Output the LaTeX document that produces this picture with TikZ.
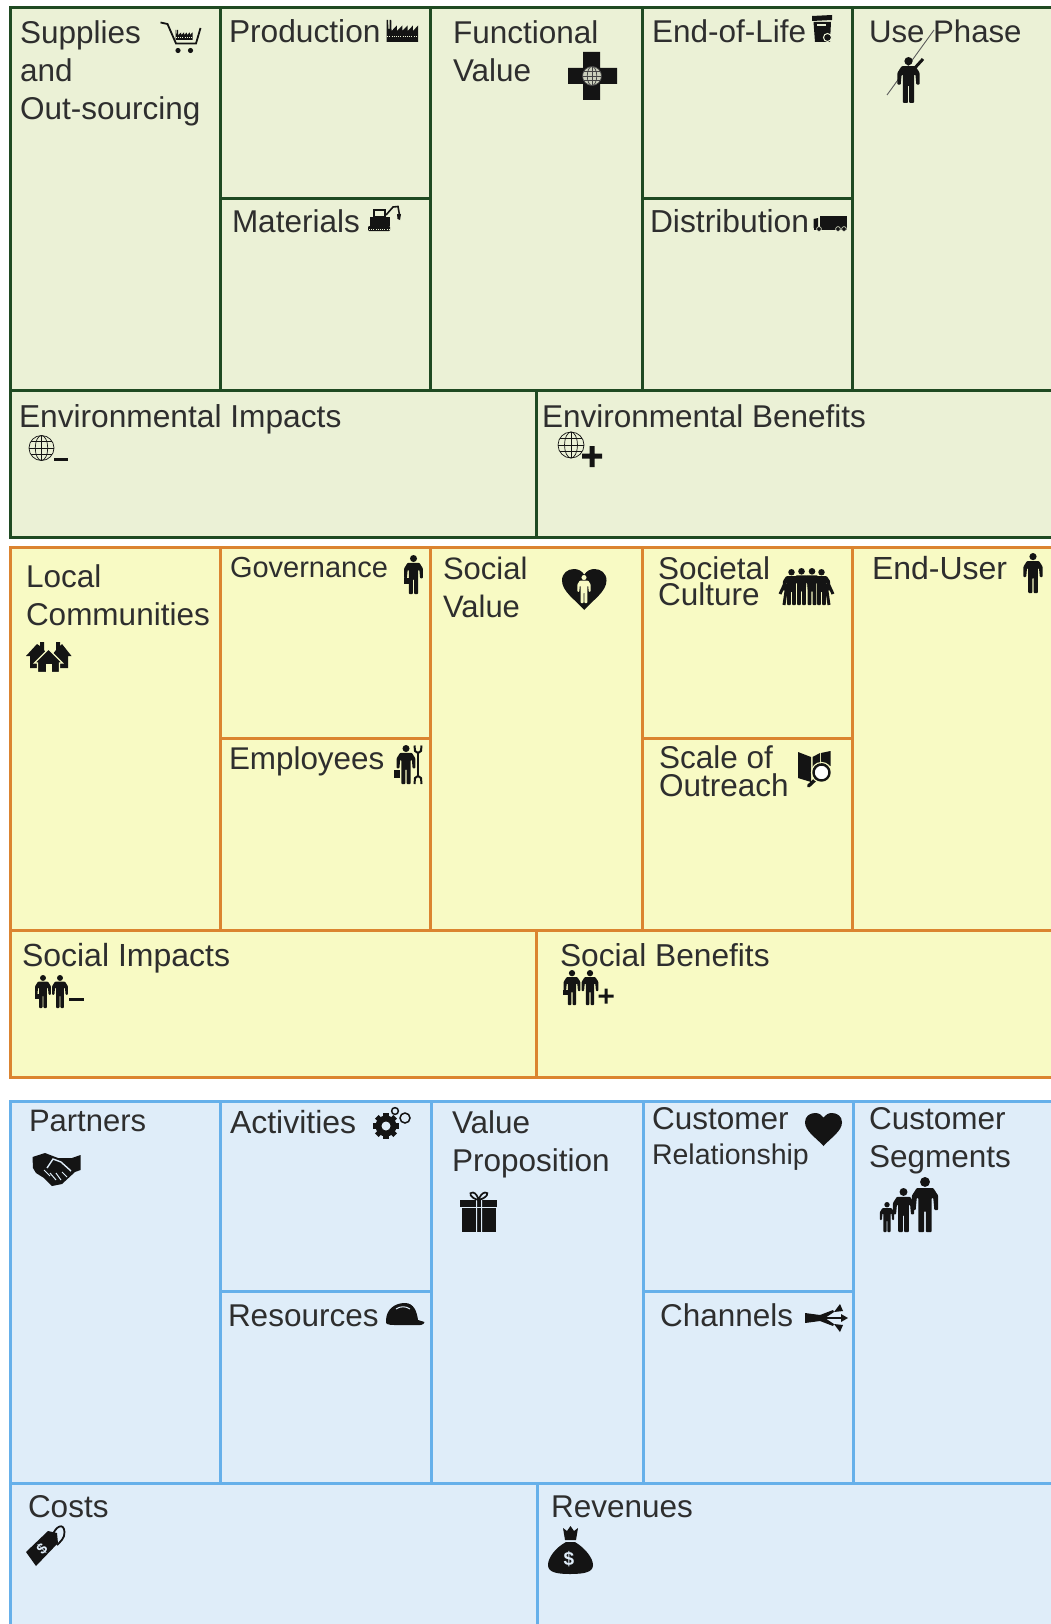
\documentclass[tikz,border=0pt]{standalone}
\usepackage{fontspec}
\setmainfont{Liberation Sans}
\definecolor{gfill}{HTML}{EBF1D6}
\definecolor{gline}{HTML}{1F4A22}
\definecolor{yfill}{HTML}{F8FAC4}
\definecolor{yline}{HTML}{DB8430}
\definecolor{bfill}{HTML}{DFEDF9}
\definecolor{bline}{HTML}{66B0EA}
\definecolor{ic}{HTML}{141414}
\definecolor{tx}{HTML}{2E2E2E}
\tikzset{
  cellbase/.style={rectangle,draw,line width=3pt,inner sep=0pt,outer sep=0pt,anchor=north west},
  gcell/.style={cellbase,fill=gfill,draw=gline},
  ycell/.style={cellbase,fill=yfill,draw=yline},
  bcell/.style={cellbase,fill=bfill,draw=bline},
  lab/.style={anchor=base west,inner sep=0pt,outer sep=0pt,text=tx,align=left},
}
\newcommand{\cellbox}[6]{\pgfmathsetmacro\cw{#5-#3}\pgfmathsetmacro\ch{#6-#4}%
  \node[#1,minimum width=\cw pt,minimum height=\ch pt] (#2) at (#3,#4) {};}
\newcommand{\lbl}[6]{\node[lab,font=\fontsize{#4}{#5}\selectfont] (#1) at (#2,#3) {#6};}
% person: centre x, top y, height, colour
\newcommand{\icnPerson}[4]{\begin{scope}[shift={(#1,#2)},scale=#3]
  \fill[#4] (0,.09) circle (.09);
  \fill[#4,rounded corners=.8pt] (-.15,.2)--(.15,.2)--(.24,.34)--(.24,.6)--(.17,.6)--(.15,.38)--(.12,.38)--(.12,1)--(.015,1)--(.015,.62)--(-.015,.62)--(-.015,1)--(-.12,1)--(-.12,.38)--(-.15,.38)--(-.17,.6)--(-.24,.6)--(-.24,.34)--cycle;
\end{scope}}
\newcommand{\icnGlobe}[5]{\begin{scope}[shift={(#1,#2)},scale=#3,line width=.7pt,draw=#5]
  \draw[fill=#4] (0,0) circle (1);
  \draw (0,0) ellipse (.5 and 1);
  \draw (0,-1)--(0,1) (-1,0)--(1,0) (-.86,-.5)--(.86,-.5) (-.86,.5)--(.86,.5);
\end{scope}}
\newcommand{\icnHeart}[6]{\begin{scope}[shift={(#1,#2)},xscale=#3,yscale=#4]
  \fill[#5] (.5,1) .. controls (.3,.75) and (0,.55) .. (0,.28) .. controls (0,.1) and (.13,0) .. (.27,0) .. controls (.37,0) and (.45,.05) .. (.5,.14) .. controls (.55,.05) and (.63,0) .. (.73,0) .. controls (.87,0) and (1,.1) .. (1,.28) .. controls (1,.55) and (.7,.75) .. (.5,1) -- cycle;
\end{scope}}
\newcommand{\icnFactory}[5]{\begin{scope}[shift={(#1,#2)},xscale=#3,yscale=#4]
  \fill[ic] (0,1)--(0,0)--(.05,0)--(.06,.4)--(.1,.4)--(.1,0)--(.15,0)--(.16,.5)--(.33,.25)--(.33,.5)--(.5,.25)--(.5,.5)--(.67,.25)--(.67,.5)--(.84,.25)--(.84,.5)--(1,.25)--(1,1)--cycle;
  \draw[#5,line width=.6pt,dash pattern=on 1pt off 1.2pt] (.02,.72)--(.98,.72);
\end{scope}}
\begin{document}
\begin{tikzpicture}[x=1pt,y=-1pt]
\useasboundingbox (0,0) rectangle (1051,1624);
\clip (0,0) rectangle (1051,1624);
\fill[white] (0,0) rectangle (1051,1624);
% ===== green block
\cellbox{gcell}{supplies}{10}{8}{220}{390}
\cellbox{gcell}{production}{220}{8}{430}{199}
\cellbox{gcell}{materials}{220}{199}{430}{390}
\cellbox{gcell}{functional}{430}{8}{642}{390}
\cellbox{gcell}{eol}{642}{8}{852}{199}
\cellbox{gcell}{distribution}{642}{199}{852}{390}
\cellbox{gcell}{usephase}{852}{8}{1062}{390}
\cellbox{gcell}{envimp}{10}{390}{536}{537}
\cellbox{gcell}{envben}{536}{390}{1062}{537}
% ===== orange block
\cellbox{ycell}{local}{10}{547}{220}{930}
\cellbox{ycell}{gov}{220}{547}{430}{738}
\cellbox{ycell}{empl}{220}{738}{430}{930}
\cellbox{ycell}{socval}{430}{547}{642}{930}
\cellbox{ycell}{culture}{642}{547}{852}{738}
\cellbox{ycell}{scale}{642}{738}{852}{930}
\cellbox{ycell}{enduser}{852}{547}{1062}{930}
\cellbox{ycell}{socimp}{10}{930}{536}{1077}
\cellbox{ycell}{socben}{536}{930}{1062}{1077}
% ===== blue block
\cellbox{bcell}{partners}{10}{1101}{220}{1483}
\cellbox{bcell}{activities}{220}{1101}{431}{1291}
\cellbox{bcell}{resources}{220}{1291}{431}{1483}
\cellbox{bcell}{valueprop}{431}{1101}{643}{1483}
\cellbox{bcell}{custrel}{643}{1101}{853}{1291}
\cellbox{bcell}{channels}{643}{1291}{853}{1483}
\cellbox{bcell}{segments}{853}{1101}{1062}{1483}
\cellbox{bcell}{costs}{10}{1483}{537}{1640}
\cellbox{bcell}{revenues}{537}{1483}{1062}{1640}
% ===== stick behind the Use Phase text
\draw[ic!70,line width=.9pt] (887,95)--(934,30);
% ===== labels (the base of a node is the baseline of its last line)
\lbl{tsupplies}{20}{120}{31.5}{38}{Supplies\\and\\Out-sourcing}
\lbl{tproduction}{229}{43}{31.7}{38}{Production}
\lbl{tmaterials}{232}{232}{31.5}{38}{Materials}
\lbl{tfunctional}{453}{82}{31.5}{38}{Functional\\Value}
\lbl{teol}{652}{43}{31.5}{38}{End-of-Life}
\lbl{tdistribution}{650}{232}{31.8}{38}{Distribution}
\lbl{tuse}{869}{43}{31.2}{38}{Use Phase}
\lbl{tenvimp}{19}{427}{31.7}{38}{Environmental Impacts}
\lbl{tenvben}{542}{427}{31.5}{38}{Environmental Benefits}
\lbl{tlocal}{26}{625}{31.5}{38}{Local\\Communities}
\lbl{tgov}{230}{577}{29}{38}{Governance}
\lbl{templ}{229}{769}{31.4}{38}{Employees}
\lbl{tsocval}{443}{617}{31}{38}{Social\\Value}
\lbl{tculture}{658}{605}{31.5}{26}{Societal\\Culture}
\lbl{tscale}{659}{796}{31.5}{28}{Scale of\\Outreach}
\lbl{tenduser}{872}{579}{32}{38}{End-User}
\lbl{tsocimp}{22}{966}{32}{38}{Social Impacts}
\lbl{tsocben}{560}{966}{31.7}{38}{Social Benefits}
\lbl{tpartners}{29}{1131}{31}{38}{Partners}
\lbl{tactivities}{230}{1133}{32}{38}{Activities}
\lbl{tvalueprop}{452}{1171}{31.5}{38}{Value\\Proposition}
\lbl{tresources}{228}{1326}{31.5}{38}{Resources}
\lbl{tcustrel}{652}{1129}{31.5}{38}{Customer}
\lbl{tcustrel2}{652}{1164}{28.5}{38}{Relationship}
\lbl{tsegments}{869}{1167}{31.5}{38}{Customer\\Segments}
\lbl{tchannels}{660}{1326}{31.5}{38}{Channels}
\lbl{tcosts}{28}{1517}{31.5}{38}{Costs}
\lbl{trevenues}{551}{1517}{31.5}{38}{Revenues}
% ===== icons: green block
% cart
\draw[ic,line width=1.8pt] (160.5,22.5)--(167.5,24)--(176,43.5)--(196,43.5)--(200.5,28);
\fill[ic] (178,50.5) circle (2.6) (190.5,50.5) circle (2.6);
\icnFactory{175.5}{30}{17}{10}{gfill}
% production
\icnFactory{386.5}{20}{31.5}{22}{gfill}
% excavator
\fill[ic,rounded corners=1pt] (368,226)--(390,226)--(390,231)--(368,231)--cycle;
\fill[ic] (370,217)--(390,217)--(390,225.5)--(370,225.5)--cycle;
\draw[ic,line width=1.6pt,fill=gfill] (374,210)--(385,210)--(385,217)--(374,217)--cycle;
\draw[ic,line width=1.6pt] (386,215)--(393,207)--(398,206.5)--(399.5,215);
\fill[ic] (397,214)--(401,214)--(400,220)--(397.5,219)--cycle;
\draw[gfill,line width=.7pt,dash pattern=on 1pt off 1.2pt] (369,229)--(389,229);
% cross with globe
\fill[ic] (583,52)--(600,52)--(600,68)--(617,68)--(617,84)--(600,84)--(600,100)--(583,100)--(583,84)--(568,84)--(568,68)--(583,68)--cycle;
\icnGlobe{592}{76}{9.5}{gfill!70!gray}{ic!80}
% bin
\fill[ic] (812,16)--(832,15)--(832,20)--(812,21)--cycle;
\fill[ic] (813.5,22)--(831,22)--(830,42)--(815,42)--cycle;
\fill[gfill] (817,24.5) rectangle (826,26);
\draw[gfill,line width=1pt,fill=ic] (827.5,37.5) circle (4);
% truck
\fill[ic] (819.5,216) rectangle (846.5,228);
\fill[ic] (813.5,219)--(818,218)--(818,228)--(813.5,228)--cycle;
\fill[ic] (813.5,228) rectangle (846.5,229.5);
\draw[gfill,line width=.6pt,fill=ic] (819,229) circle (2.4) (838,229) circle (2.4) (844,229) circle (2.4);
% pointer man
\icnPerson{908.5}{57}{46}{ic}
\draw[ic,line width=3pt] (913,70)--(923,59);
% globes
\icnGlobe{41.5}{448}{12.5}{gfill}{ic}
\fill[ic] (53.5,457.5) rectangle (68,460.5);
\icnGlobe{571}{445}{13}{gfill}{ic}
\fill[ic] (582,453.5) rectangle (602,458.5) (589.5,446) rectangle (594.5,467);
% ===== icons: orange block
% houses
\fill[ic] (26,656)--(37,644)--(40,646)--(40,642)--(44,642)--(44,650)--(48,655)--(44,668)--(30,668)--(30,656)--cycle;
\fill[ic] (71.5,656)--(62,644)--(60,646)--(60,642)--(56,642)--(56,650)--(52,655)--(56,668)--(68,668)--(68,656)--cycle;
\fill[ic,draw=yfill,line width=1.2pt] (34.5,663)--(48.5,649)--(62.5,663)--(59.5,663)--(59.5,672.5)--(37.5,672.5)--(37.5,663)--cycle;
\fill[yfill] (45.5,664) rectangle (51.5,672);
% governance man
\icnPerson{413.5}{555}{39}{ic}
\fill[ic] (403.5,578) rectangle (410,584);
% employee with wrench
\icnPerson{406}{745}{39}{ic}
\fill[ic] (393.5,770) rectangle (400,778);
\draw[ic,line width=2.6pt] (418,752)--(418,777);
\draw[ic,line width=2pt] (414.5,745.5)--(415,751)--(418,753)--(421,751)--(421.5,745.5);
\draw[ic,line width=2pt] (414.5,784)--(415,778)--(418,776)--(421,778)--(421.5,784);
% heart with person
\icnHeart{562}{569}{44.5}{41}{ic}{}
\icnPerson{584}{575}{28}{yfill}
% group
\icnPerson{791.5}{569}{36}{ic}
\icnPerson{801.5}{568}{37}{ic}
\icnPerson{812}{568}{37}{ic}
\icnPerson{821.5}{569}{36}{ic}
\draw[ic,line width=3pt] (787,579)--(780,594) (826,579)--(833,594);
\draw[ic,line width=3pt] (787,584)--(784,605) (826,584)--(829,605);
% map and magnifier
\fill[ic] (798,752)--(811,757)--(811,782)--(798,778)--cycle;
\fill[ic] (812.5,757)--(820,753)--(820,766)--(812.5,771)--cycle;
\fill[ic] (821,753)--(830.5,751)--(830.5,766)--(821,764)--cycle;
\draw[ic,line width=3.4pt,line cap=round] (816,779)--(808.5,786);
\draw[yfill,line width=1.2pt] (821.5,772.5) circle (10);
\draw[ic,line width=2.4pt,fill=white] (821.5,772.5) circle (8);
% end user
\icnPerson{1033}{553}{40}{ic}
% two men minus
\icnPerson{43}{975}{33}{ic}
\icnPerson{60}{975}{33}{ic}
\fill[ic] (34.5,994) rectangle (39,999);
\fill[ic] (68.5,997.5) rectangle (83.5,1001);
% two men plus
\icnPerson{572}{970}{35}{ic}
\icnPerson{590}{970}{35}{ic}
\fill[ic] (563,990) rectangle (568,995);
\fill[ic] (598.5,994.5) rectangle (613.5,997.5) (604.5,988.5) rectangle (607.5,1003.5);
% ===== icons: blue block
% handshake
\fill[ic] (32.5,1157)--(45,1153)--(58,1158)--(72,1158)--(80.5,1155)--(80.5,1170)--(75,1172)--(62,1184)--(52,1186)--(44,1178)--(36,1173)--(33,1168)--cycle;
\draw[bfill,line width=1.4pt] (47,1168)--(53,1159)--(61,1162)--(71,1171);
\draw[bfill,line width=1pt] (44,1170)--(50,1176) (50,1173)--(56,1180) (56,1173)--(61,1180) (62,1172)--(67,1177);
% gears
\begin{scope}[shift={(386,1126)}]
  \foreach \a in {0,45,...,315}{\fill[ic,rotate=\a] (-2.6,-13) rectangle (2.6,0);}
  \fill[ic] (0,0) circle (10.5);
  \fill[bfill] (0,0) circle (4.5);
\end{scope}
\draw[ic,line width=1.5pt] (395,1111) circle (3.4) (405,1118) circle (5);
% gift
\fill[ic] (462,1208) rectangle (495.5,1231.5);
\fill[ic] (460,1200) rectangle (497,1207);
\fill[bfill] (476,1200) rectangle (477,1232) (481,1200) rectangle (482,1232);
\draw[ic,line width=1.7pt] (478.5,1200) .. controls (470,1198) and (468,1192) .. (473,1192.5) .. controls (476,1193) and (478,1197) .. (478.5,1200) .. controls (480,1196) and (482,1193) .. (485,1192.5) .. controls (490,1192) and (487,1198) .. (478.5,1200);
% hard hat
\fill[ic] (386,1321) .. controls (386,1309) and (395,1303) .. (405,1303) .. controls (414,1303) and (417,1312) .. (418,1320) -- (424.5,1322) .. controls (424,1325) and (420,1325.5) .. (416,1325) -- (395,1325) .. controls (388,1325) and (385,1324) .. (386,1321) -- cycle;
\draw[bfill,line width=1pt] (396,1309) .. controls (400,1306) and (406,1306) .. (410,1309);
% heart
\icnHeart{805}{1113}{37}{33}{ic}{}
% family
\icnPerson{887}{1202}{30}{ic}
\icnPerson{903.5}{1188}{44}{ic}
\icnPerson{925}{1177}{55}{ic}
% channels
\fill[ic] (805,1313)--(820,1315)--(833,1310)--(834,1312)--(825,1318)--(834,1324)--(833,1326)--(820,1321)--(805,1323)--cycle;
\draw[ic,line width=1.6pt] (825,1318)--(845,1318);
\fill[ic] (840,1304)--(843,1311)--(834,1312)--cycle (848,1318)--(841,1314)--(841,1322)--cycle (840,1332)--(843,1325)--(834,1324)--cycle;
% tag
\fill[ic] (26,1552)--(48,1531)--(57,1533)--(58,1543)--(36,1566)--cycle;
\draw[ic,line width=1.8pt] (52,1537) .. controls (55,1526) and (64,1522) .. (64.5,1532) .. controls (65,1538) and (60,1542) .. (57,1545);
\node[rotate=45,text=bfill,font=\bfseries\fontsize{15}{15}\selectfont,inner sep=0pt] (tagdollar) at (42,1549) {\$};
% money bag
\fill[ic] (566,1542) .. controls (555,1548) and (548,1558) .. (548,1565) .. controls (548,1572) and (556,1574) .. (570,1574) .. controls (585,1574) and (593,1572) .. (593,1565) .. controls (593,1558) and (585,1548) .. (575,1542) -- cycle;
\fill[ic] (563,1528)--(567,1531)--(570.5,1526)--(574,1531)--(578,1528)--(576,1540)--(565,1540)--cycle;
\node[text=bfill,font=\bfseries\fontsize{19}{19}\selectfont,inner sep=0pt] (bagdollar) at (569,1559) {\$};
\end{tikzpicture}
\end{document}
